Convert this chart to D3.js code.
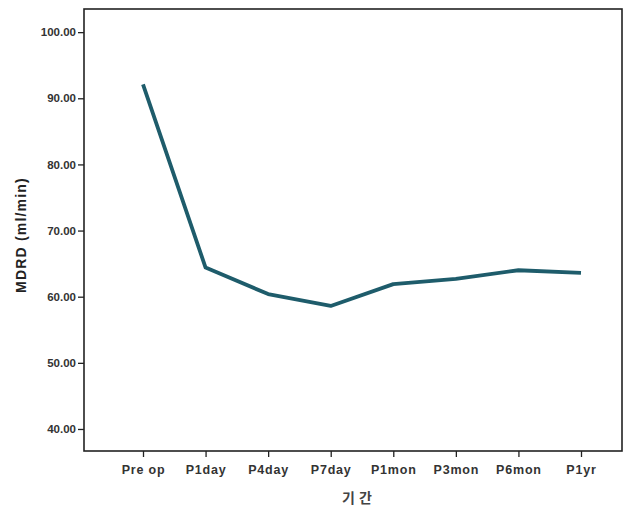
<!DOCTYPE html>
<html><head><meta charset="utf-8">
<script src="https://cdn.jsdelivr.net/npm/d3@7"></script>
<style>body{margin:0;background:#fff}</style>
</head><body>
<svg id="c" width="644" height="506"></svg>
<script>
const categories = ["Pre op","P1day","P4day","P7day","P1mon","P3mon","P6mon","P1yr"];
const values = [92.1, 64.4, 60.4, 58.6, 61.9, 62.7, 64.0, 63.6];
const yTicks = [40,50,60,70,80,90,100];

const svg = d3.select("#c");
const L=84, R=622, T=9, B=451;
const x = d3.scalePoint().domain(categories).range([143,581]);
const y = d3.scaleLinear().domain([36.67,103.5]).range([B,T]);
const font = "Arial, 'Liberation Sans', sans-serif";

svg.append("rect").attr("x",L).attr("y",T).attr("width",R-L).attr("height",B-T)
  .attr("fill","none").attr("stroke","#222").attr("stroke-width",1.6);

const ya = svg.append("g").attr("transform",`translate(${L},0)`)
  .call(d3.axisLeft(y).tickValues(yTicks).tickFormat(d3.format(".2f")).tickSize(6).tickSizeOuter(0));
ya.select(".domain").remove();
ya.selectAll("line").attr("stroke","#222").attr("stroke-width",1.3);
ya.selectAll("text").attr("font-family",font).attr("font-size",11.5).attr("font-weight","bold").attr("fill","#333").attr("dx",1);

const xa = svg.append("g").attr("transform",`translate(0,${B})`)
  .call(d3.axisBottom(x).tickSize(6).tickSizeOuter(0));
xa.select(".domain").remove();
xa.selectAll("line").attr("stroke","#222").attr("stroke-width",1.3);
xa.selectAll("text").attr("font-family",font).attr("font-size",12.5).attr("font-weight","bold").attr("fill","#333").attr("letter-spacing","0.8").attr("dy","1.15em");

svg.append("path").datum(values.map((v,i)=>[categories[i],v]))
  .attr("fill","none").attr("stroke","#1e5c6b").attr("stroke-width",3.8).attr("stroke-linejoin","round")
  .attr("d", d3.line().x(d=>x(d[0])).y(d=>y(d[1])));

svg.append("text").attr("transform","translate(26,235) rotate(-90)").attr("text-anchor","middle")
  .attr("font-family",font).attr("font-size",14).attr("font-weight","bold").attr("fill","#222").attr("letter-spacing","1.2").text("MDRD (ml/min)");
svg.append("text").attr("x",359).attr("y",503).attr("text-anchor","middle")
  .attr("font-family","'Noto Sans CJK KR', sans-serif").attr("font-size",14).attr("font-weight","bold").attr("fill","#444").attr("letter-spacing","4").text("기간");
</script>
</body></html>
